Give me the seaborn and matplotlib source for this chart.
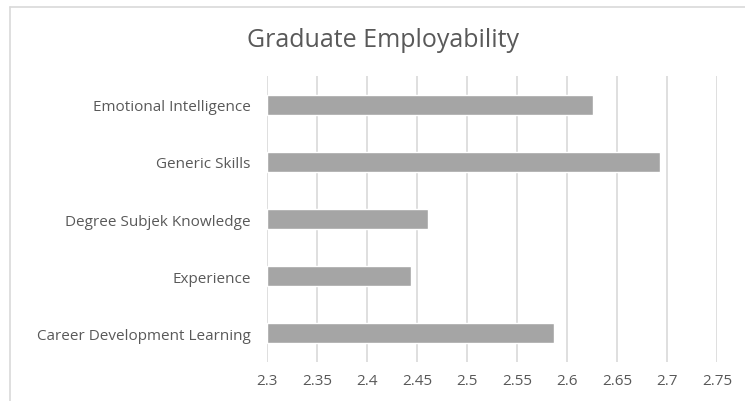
import pandas as pd
import matplotlib.pyplot as plt
import seaborn as sns
from matplotlib.lines import Line2D

# Data
categories = ['Emotional Intelligence', 'Generic Skills', 'Degree Subjek Knowledge',
              'Experience', 'Career Development Learning']
scores = [2.626, 2.693, 2.461, 2.444, 2.587]
x_ticks = [2.3, 2.35, 2.4, 2.45, 2.5, 2.55, 2.6, 2.65, 2.7, 2.75]
x_tick_labels = ['2.3', '2.35', '2.4', '2.45', '2.5', '2.55', '2.6', '2.65', '2.7', '2.75']

if __name__ == '__main__':
    sns.set_style('white')
    plt.rcParams['font.family'] = ['Open Sans', 'DejaVu Sans']
    text_color = '#595959'
    grid_color = '#d9d9d9'

    data = pd.DataFrame({'category': categories, 'score': scores})

    fig = plt.figure(figsize=(7.45, 4.02), dpi=100)
    ax = fig.add_axes([0.3588, 0.097, 0.6036, 0.7114])

    # bars start at the axis minimum (2.3), like the original
    data['length'] = data['score'] - x_ticks[0]
    sns.barplot(data=data, y='category', x='length', left=x_ticks[0], color='#a5a5a5',
                width=0.35, saturation=1, ax=ax, zorder=3)

    ax.set_xlim(x_ticks[0], x_ticks[-1])
    ax.set_ylim(4.5, -0.5)
    ax.set_xticks(x_ticks)
    ax.set_xticklabels(x_tick_labels)
    ax.set(xlabel=None, ylabel=None)
    ax.xaxis.grid(True, color=grid_color, linewidth=1.2, zorder=0)
    for s in ax.spines.values():
        s.set_visible(False)
    ax.tick_params(axis='both', length=0, labelsize=11, labelcolor=text_color)
    ax.tick_params(axis='x', pad=8)
    ax.tick_params(axis='y', pad=12)

    fig.text(0.514, 0.90, 'Graduate Employability', ha='center', va='center',
             fontsize=18, color=text_color)

    # chart border (top and left edges visible)
    fig.add_artist(Line2D([10 / 745, 1.0], [1 - 8 / 402, 1 - 8 / 402],
                          transform=fig.transFigure, color=grid_color, linewidth=1.2))
    fig.add_artist(Line2D([10 / 745, 10 / 745], [1 - 8 / 402, 0.0],
                          transform=fig.transFigure, color=grid_color, linewidth=1.2))

    fig.savefig('out.png', dpi=100)
